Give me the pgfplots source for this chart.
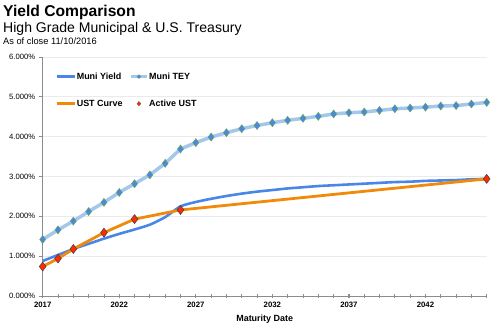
\documentclass[border=0pt]{standalone}
\usepackage{fontspec}
\setmainfont{Liberation Sans}
\usepackage{pgfplots}
\pgfplotsset{compat=1.18}
\definecolor{muniblue}{HTML}{4A86E8}
\definecolor{teyline}{HTML}{A4C8EC}
\definecolor{ustorange}{HTML}{F08A0B}
\definecolor{activered}{HTML}{FF2A00}
\definecolor{gridgray}{HTML}{EBEBEB}
\definecolor{axisgray}{HTML}{8C8C8C}
\definecolor{markgreen}{HTML}{6AA84F}
\begin{document}
\begin{tikzpicture}
\useasboundingbox (0,0) rectangle (500bp,331bp);
\node[anchor=base west, inner sep=0pt, font=\bfseries\fontsize{15.7}{18}\selectfont] at (3bp,314.3bp) {Yield Comparison};
\node[anchor=base west, inner sep=0pt, font=\fontsize{14.1}{16}\selectfont] at (3bp,298.3bp) {High Grade Municipal \& U.S. Treasury};
\node[anchor=base west, inner sep=0pt, font=\fontsize{9.3}{11}\selectfont] at (3bp,286.7bp) {As of close 11/10/2016};
\begin{axis}[
  at={(42.7bp,35bp)}, anchor=south west,
  scale only axis, width=444bp, height=239bp,
  xmin=2017, xmax=2046, ymin=0, ymax=6,
  axis lines=left,
  axis line style={draw=axisgray, line width=1bp, -},
  ytick={0,1,...,6},
  yticklabel={\pgfmathprintnumber[fixed,fixed zerofill,precision=3]{\tick}\%},
  xtick={2017,2022,...,2042},
  minor xtick={2017,...,2046},
  xticklabel={\pgfmathprintnumber[set thousands separator={}]{\tick}},
  /pgf/number format/assume math mode=true,
  xticklabel style={font=\bfseries\fontsize{7.8}{9}\selectfont, yshift=-1bp},
  yticklabel style={font=\fontsize{7.7}{9}\selectfont},
  ymajorgrids,
  major grid style={gridgray, line width=0.8bp},
  tick style={axisgray, line width=0.8bp},
  xtick align=center, ytick align=outside,
  major tick length=4bp, minor tick length=4bp,
  xlabel={Maturity Date},
  xlabel style={font=\bfseries\fontsize{9}{10}\selectfont, yshift=0bp},
  legend columns=2,
  legend cell align=left,
  legend style={at={(0.0277,0.939)}, anchor=north west, draw=none, fill=none,
    font=\bfseries\fontsize{9}{10}\selectfont, inner sep=0pt, row sep=17.5bp,
    /tikz/every even column/.append style={column sep=6bp},
    nodes={inner sep=0.8bp}},
]
% Muni Yield
\addplot[muniblue, line width=2.6bp, smooth, tension=0.4,
  legend image code/.code={\draw[muniblue, line width=2.8bp] (0bp,0bp) -- (18bp,0bp);}]
  coordinates {
  (2017,0.88) (2018,1.03) (2019,1.18) (2020,1.31) (2021,1.44) (2022,1.56)
  (2023,1.67) (2024,1.79) (2025,1.98) (2026,2.25) (2027,2.36) (2028,2.44)
  (2029,2.51) (2030,2.57) (2031,2.62) (2032,2.66) (2033,2.70) (2034,2.73)
  (2035,2.76) (2036,2.78) (2037,2.80) (2038,2.82) (2039,2.84) (2040,2.86)
  (2041,2.87) (2042,2.89) (2043,2.90) (2044,2.91) (2045,2.93) (2046,2.94)};
\addlegendentry{Muni Yield}
% Muni TEY
\addplot[teyline, line width=3.5bp, mark=diamond*, mark size=4bp,
  mark options={fill=muniblue, draw=markgreen, line width=0.5bp},
  legend image code/.code={\draw[teyline, line width=3bp] (0bp,0bp) -- (16bp,0bp);
     \filldraw[fill=muniblue, draw=markgreen, line width=0.3bp] (6bp,0bp) -- (8bp,2bp) -- (10bp,0bp) -- (8bp,-2bp) -- cycle;}]
  coordinates {
  (2017,1.42) (2018,1.66) (2019,1.88) (2020,2.12) (2021,2.35) (2022,2.60)
  (2023,2.82) (2024,3.04) (2025,3.33) (2026,3.69) (2027,3.85) (2028,3.99)
  (2029,4.10) (2030,4.20) (2031,4.28) (2032,4.35) (2033,4.41) (2034,4.46)
  (2035,4.51) (2036,4.57) (2037,4.60) (2038,4.62) (2039,4.66) (2040,4.70)
  (2041,4.72) (2042,4.74) (2043,4.77) (2044,4.78) (2045,4.82) (2046,4.86)};
\addlegendentry{Muni TEY}
% UST Curve
\addplot[ustorange, line width=2.8bp,
  legend image code/.code={\draw[ustorange, line width=2.8bp] (0bp,0bp) -- (18bp,0bp);}]
  coordinates {(2017,0.74) (2018,0.94) (2019,1.18) (2021,1.59) (2023,1.93) (2026,2.16) (2046,2.94)};
\addlegendentry{UST Curve}
% Active UST
\addplot[only marks, mark=diamond*, mark size=4.5bp,
  mark options={fill=activered, draw=black!75, line width=0.5bp},
  legend image code/.code={\filldraw[fill=activered, draw=black!60, line width=0.3bp] (6bp,0bp) -- (8bp,2.2bp) -- (10bp,0bp) -- (8bp,-2.2bp) -- cycle;}]
  coordinates {(2017,0.74) (2018,0.94) (2019,1.18) (2021,1.59) (2023,1.93) (2026,2.16) (2046,2.94)};
\addlegendentry{Active UST}
\end{axis}
\end{tikzpicture}
\end{document}
